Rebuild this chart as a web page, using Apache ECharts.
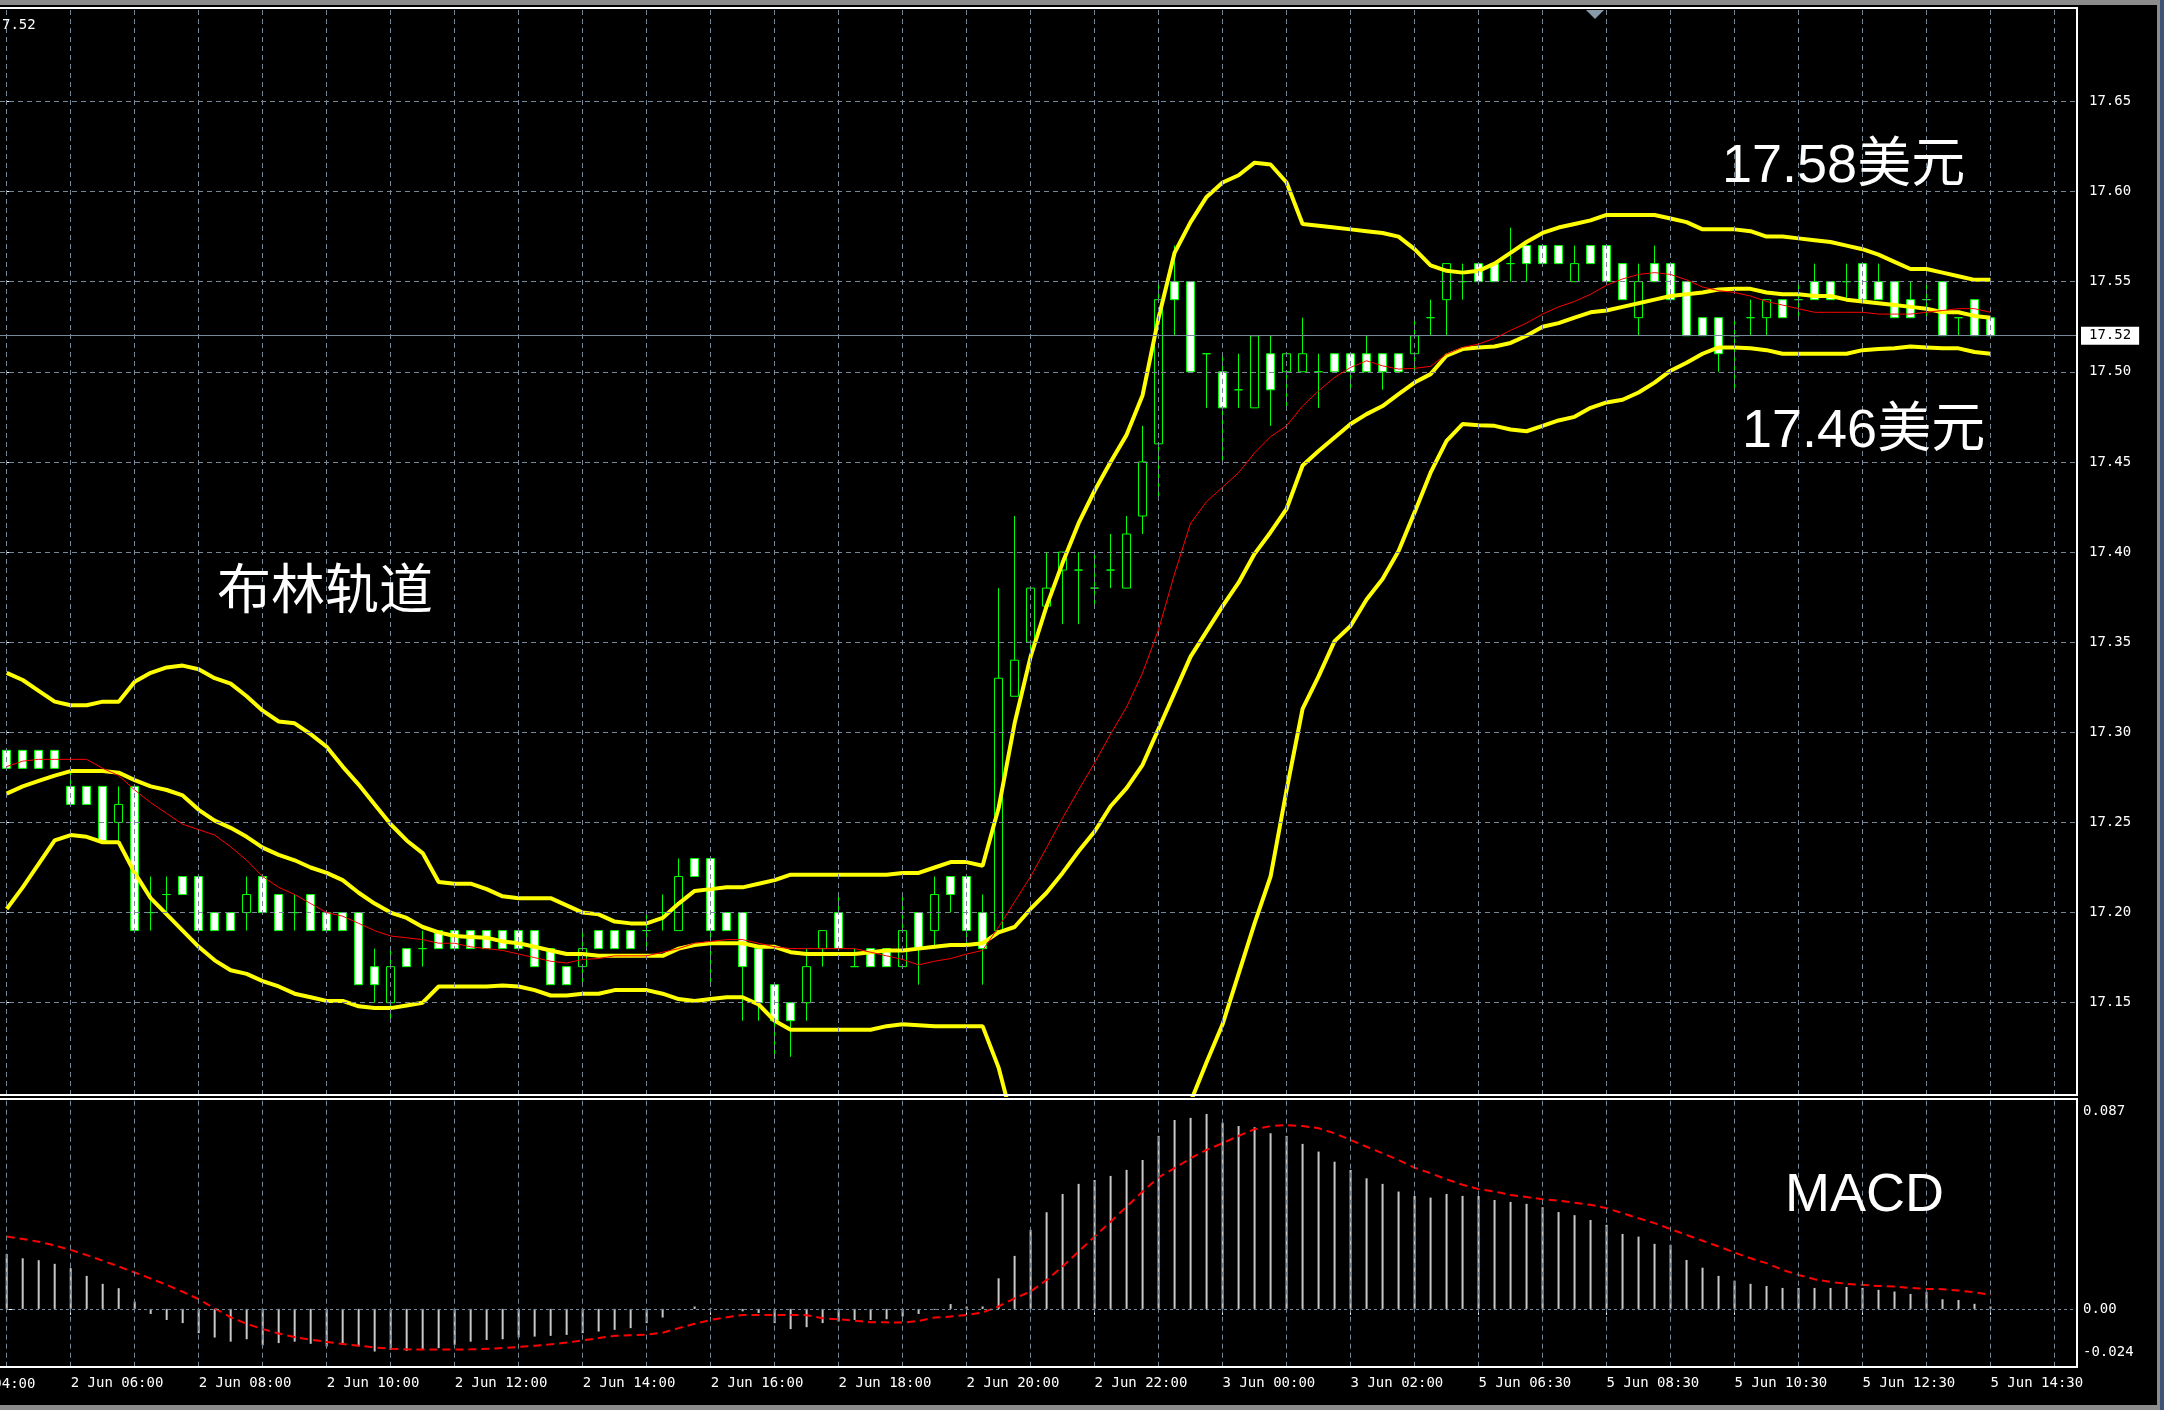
<!DOCTYPE html>
<html><head><meta charset="utf-8">
<script src="https://cdn.jsdelivr.net/npm/echarts@6/dist/echarts.min.js"></script>
<style>html,body{margin:0;padding:0;background:#000;overflow:hidden}#c{width:2164px;height:1410px}</style>
</head><body><div id="c"></div>
<script>
// ---------- data ----------
const timeLabels = ['2 Jun 04:00','2 Jun 06:00','2 Jun 08:00','2 Jun 10:00','2 Jun 12:00','2 Jun 14:00','2 Jun 16:00','2 Jun 18:00','2 Jun 20:00','2 Jun 22:00','3 Jun 00:00','3 Jun 02:00','5 Jun 06:30','5 Jun 08:30','5 Jun 10:30','5 Jun 12:30','5 Jun 14:30'];
const timeTickIdx = [-4,4,12,20,28,36,44,52,60,68,76,84,92,100,108,116,124]; // candle index of each time label
const priceTicks = [17.15,17.20,17.25,17.30,17.35,17.40,17.45,17.50,17.55,17.60,17.65];
const macdTicks = [-0.024, 0, 0.087];
const macdTickLabels = ['-0.024', '0.00', '0.087'];
const lastPrice = 17.52;
// [open, close, low, high]
const candles = [
[17.29,17.28,17.28,17.29],[17.29,17.28,17.28,17.29],[17.29,17.28,17.28,17.29],[17.29,17.28,17.28,17.29],
[17.27,17.26,17.26,17.28],[17.27,17.26,17.26,17.27],[17.27,17.24,17.24,17.27],[17.25,17.26,17.24,17.27],
[17.27,17.19,17.19,17.27],[17.20,17.20,17.19,17.22],[17.21,17.21,17.20,17.22],[17.22,17.21,17.21,17.22],
[17.22,17.19,17.19,17.22],[17.20,17.19,17.19,17.20],[17.20,17.19,17.19,17.20],[17.20,17.21,17.19,17.22],
[17.22,17.20,17.20,17.22],[17.21,17.19,17.19,17.21],[17.20,17.20,17.19,17.21],[17.21,17.19,17.19,17.21],
[17.20,17.19,17.19,17.20],[17.20,17.19,17.19,17.20],[17.20,17.16,17.16,17.20],[17.17,17.16,17.15,17.18],
[17.15,17.17,17.14,17.18],[17.18,17.17,17.17,17.18],[17.18,17.18,17.17,17.19],[17.19,17.18,17.18,17.19],
[17.19,17.18,17.18,17.19],[17.19,17.18,17.18,17.19],[17.19,17.18,17.18,17.19],[17.19,17.18,17.18,17.19],
[17.19,17.18,17.18,17.19],[17.19,17.17,17.17,17.19],[17.18,17.16,17.16,17.18],[17.17,17.16,17.16,17.17],
[17.17,17.18,17.16,17.19],[17.19,17.18,17.18,17.19],[17.19,17.18,17.18,17.19],[17.19,17.18,17.18,17.19],
[17.19,17.19,17.18,17.20],[17.20,17.20,17.19,17.21],[17.19,17.22,17.19,17.23],[17.23,17.22,17.22,17.23],
[17.23,17.19,17.16,17.23],[17.20,17.19,17.19,17.20],[17.20,17.17,17.14,17.20],[17.18,17.15,17.14,17.18],
[17.16,17.14,17.12,17.16],[17.15,17.14,17.12,17.15],[17.15,17.17,17.14,17.18],[17.18,17.19,17.17,17.19],
[17.20,17.18,17.18,17.21],[17.17,17.17,17.17,17.18],[17.18,17.17,17.17,17.18],[17.18,17.17,17.17,17.18],
[17.17,17.19,17.17,17.21],[17.20,17.18,17.16,17.20],[17.19,17.21,17.18,17.22],[17.22,17.21,17.20,17.22],
[17.22,17.19,17.18,17.22],[17.20,17.18,17.16,17.21],[17.19,17.33,17.19,17.38],[17.32,17.34,17.32,17.42],
[17.35,17.38,17.34,17.38],[17.37,17.38,17.37,17.40],[17.39,17.40,17.36,17.40],[17.39,17.39,17.36,17.40],
[17.38,17.38,17.37,17.40],[17.39,17.39,17.38,17.41],[17.38,17.41,17.38,17.42],[17.42,17.45,17.41,17.47],
[17.46,17.54,17.43,17.55],[17.55,17.54,17.52,17.57],[17.55,17.50,17.50,17.55],[17.51,17.51,17.48,17.51],
[17.50,17.48,17.45,17.51],[17.49,17.49,17.48,17.51],[17.48,17.52,17.48,17.52],[17.51,17.49,17.47,17.52],
[17.50,17.51,17.48,17.51],[17.50,17.51,17.50,17.53],[17.50,17.50,17.48,17.51],[17.51,17.50,17.50,17.51],
[17.51,17.50,17.49,17.51],[17.51,17.50,17.50,17.52],[17.51,17.50,17.49,17.51],[17.51,17.50,17.50,17.51],
[17.51,17.52,17.50,17.53],[17.53,17.53,17.52,17.54],[17.54,17.56,17.52,17.56],[17.55,17.55,17.54,17.56],
[17.56,17.55,17.55,17.56],[17.56,17.55,17.55,17.56],[17.56,17.56,17.55,17.58],[17.57,17.56,17.55,17.57],
[17.57,17.56,17.56,17.57],[17.57,17.56,17.56,17.57],[17.55,17.56,17.55,17.57],[17.57,17.56,17.56,17.57],
[17.57,17.55,17.55,17.57],[17.56,17.54,17.54,17.56],[17.53,17.55,17.52,17.56],[17.56,17.55,17.55,17.57],
[17.56,17.54,17.54,17.56],[17.55,17.52,17.52,17.55],[17.53,17.52,17.52,17.53],[17.53,17.51,17.50,17.53],
[17.52,17.52,17.49,17.53],[17.53,17.53,17.52,17.54],[17.53,17.54,17.52,17.54],[17.54,17.53,17.53,17.54],
[17.54,17.54,17.53,17.55],[17.55,17.54,17.54,17.56],[17.55,17.54,17.54,17.55],[17.55,17.55,17.54,17.56],
[17.56,17.54,17.54,17.56],[17.55,17.54,17.54,17.56],[17.55,17.53,17.53,17.55],[17.54,17.53,17.53,17.55],
[17.54,17.54,17.53,17.55],[17.55,17.52,17.52,17.55],[17.53,17.53,17.52,17.53],[17.54,17.52,17.52,17.54],
[17.53,17.52,17.52,17.53]
];
const bbUpper = [17.333,17.329,17.323,17.317,17.315,17.315,17.317,17.317,17.328,17.333,17.336,17.337,17.335,17.330,17.327,17.320,
17.312,17.306,17.305,17.299,17.292,17.281,17.271,17.260,17.249,17.240,17.233,17.217,17.216,17.216,17.213,17.209,
17.208,17.208,17.208,17.204,17.200,17.199,17.195,17.194,17.194,17.197,17.205,17.212,17.213,17.214,17.214,17.216,
17.218,17.221,17.221,17.221,17.221,17.221,17.221,17.221,17.222,17.222,17.225,17.228,17.228,17.226,17.258,17.305,
17.342,17.370,17.394,17.416,17.434,17.450,17.465,17.487,17.530,17.566,17.583,17.597,17.605,17.609,17.616,17.615,
17.605,17.582,17.581,17.580,17.579,17.578,17.577,17.575,17.568,17.559,17.556,17.555,17.556,17.560,17.566,17.572,
17.577,17.580,17.582,17.584,17.587,17.587,17.587,17.587,17.585,17.583,17.579,17.579,17.579,17.578,17.575,17.575,
17.574,17.573,17.572,17.570,17.568,17.565,17.561,17.557,17.557,17.555,17.553,17.551,17.551];
const bbMiddle = [17.266,17.270,17.273,17.276,17.2785,17.2785,17.2785,17.2776,17.2735,17.270,17.268,17.265,17.257,17.251,17.247,17.242,
17.236,17.232,17.229,17.225,17.222,17.218,17.211,17.205,17.200,17.197,17.192,17.189,17.187,17.1865,17.186,17.184,
17.183,17.181,17.179,17.177,17.177,17.176,17.176,17.176,17.176,17.176,17.180,17.182,17.183,17.183,17.183,17.181,
17.181,17.178,17.177,17.177,17.177,17.177,17.178,17.179,17.179,17.180,17.181,17.182,17.182,17.183,17.189,17.192,
17.202,17.211,17.222,17.234,17.245,17.259,17.269,17.282,17.302,17.322,17.342,17.356,17.370,17.383,17.399,17.411,
17.424,17.448,17.456,17.4635,17.471,17.4765,17.481,17.4876,17.494,17.4987,17.509,17.5126,17.5135,17.514,17.516,17.520,
17.525,17.527,17.530,17.533,17.534,17.536,17.538,17.540,17.542,17.543,17.544,17.5456,17.546,17.546,17.544,17.543,
17.543,17.542,17.542,17.540,17.539,17.538,17.537,17.536,17.535,17.533,17.533,17.531,17.530];
const bbLower = [17.202,17.214,17.227,17.240,17.243,17.242,17.239,17.239,17.222,17.208,17.199,17.190,17.181,17.1735,17.168,17.166,
17.162,17.159,17.155,17.153,17.151,17.151,17.148,17.147,17.147,17.1485,17.150,17.159,17.159,17.159,17.159,17.1595,
17.159,17.157,17.154,17.154,17.155,17.155,17.157,17.157,17.157,17.155,17.152,17.151,17.152,17.153,17.153,17.149,
17.140,17.135,17.135,17.135,17.135,17.135,17.135,17.137,17.138,17.1375,17.137,17.137,17.137,17.137,17.114,17.080,
17.060,17.050,17.050,17.052,17.055,17.060,17.070,17.075,17.075,17.080,17.095,17.117,17.138,17.166,17.194,17.220,
17.268,17.313,17.331,17.3506,17.359,17.3737,17.385,17.4006,17.422,17.444,17.4617,17.471,17.4704,17.470,17.468,17.467,
17.470,17.473,17.475,17.480,17.483,17.4845,17.4885,17.494,17.5006,17.505,17.510,17.5135,17.5135,17.513,17.512,17.510,
17.510,17.510,17.510,17.510,17.512,17.5126,17.513,17.514,17.5135,17.513,17.513,17.511,17.510];
const maRed = [17.281,17.284,17.285,17.285,17.285,17.285,17.280,17.276,17.268,17.261,17.255,17.249,17.246,17.243,17.2365,17.229,
17.220,17.214,17.210,17.205,17.200,17.198,17.194,17.190,17.187,17.186,17.185,17.183,17.183,17.181,17.180,17.179,
17.177,17.175,17.173,17.172,17.174,17.1745,17.176,17.176,17.176,17.178,17.180,17.183,17.184,17.185,17.185,17.183,
17.181,17.180,17.180,17.180,17.180,17.180,17.178,17.176,17.174,17.171,17.173,17.1745,17.177,17.179,17.192,17.206,
17.220,17.236,17.2525,17.268,17.283,17.299,17.314,17.333,17.357,17.388,17.416,17.428,17.436,17.444,17.455,17.464,
17.470,17.481,17.4894,17.4969,17.5024,17.5061,17.5033,17.5015,17.5019,17.503,17.5098,17.5135,17.5154,17.5185,17.523,17.527,
17.532,17.536,17.539,17.543,17.548,17.5515,17.554,17.555,17.554,17.551,17.547,17.545,17.544,17.542,17.539,17.537,
17.535,17.533,17.533,17.533,17.533,17.532,17.532,17.532,17.533,17.534,17.535,17.535,17.533];
const macdHist = [0.0228,0.0210,0.0202,0.0187,0.0169,0.0137,0.0104,0.0086,0.0030,-0.0021,-0.0046,-0.0059,-0.0101,-0.0119,-0.0136,-0.0126,
-0.0151,-0.0142,-0.0136,-0.0145,-0.0156,-0.0142,-0.0156,-0.0177,-0.0170,-0.0174,-0.0167,-0.0163,-0.0149,-0.0136,-0.0129,-0.0126,
-0.0118,-0.0115,-0.0112,-0.0108,-0.0101,-0.0094,-0.0087,-0.0080,-0.0059,-0.0036,-0.0005,0.0010,0.0003,-0.0005,-0.0010,-0.0017,
-0.0059,-0.0084,-0.0076,-0.0059,-0.0052,-0.0046,-0.0046,-0.0043,-0.0032,-0.0021,-0.0004,0.0020,0.0010,0.0010,0.0127,0.0220,
0.0328,0.0401,0.0477,0.0519,0.0535,0.0552,0.0577,0.0618,0.0718,0.0784,0.0793,0.0809,0.0773,0.0759,0.0754,0.0729,
0.0718,0.0685,0.0653,0.0611,0.0577,0.0542,0.0519,0.0487,0.0469,0.0462,0.0477,0.0469,0.0469,0.0452,0.0444,0.0436,
0.0422,0.0402,0.0389,0.0369,0.0349,0.0311,0.0300,0.0270,0.0266,0.0203,0.0171,0.0137,0.0117,0.0104,0.0095,0.0087,
0.0087,0.0087,0.0087,0.0091,0.0087,0.0079,0.0072,0.0062,0.0071,0.0040,0.0037,0.0021,0.0010];
const macdSignal = [0.0300,0.0290,0.0279,0.0263,0.0245,0.0223,0.0200,0.0176,0.0151,0.0126,0.0100,0.0071,0.0040,0.0002,-0.0035,-0.0062,
-0.0084,-0.0102,-0.0117,-0.0128,-0.0137,-0.0146,-0.0153,-0.0160,-0.0165,-0.0168,-0.0169,-0.0169,-0.0169,-0.0168,-0.0166,-0.0162,
-0.0158,-0.0153,-0.0147,-0.0140,-0.0131,-0.0121,-0.0112,-0.0109,-0.0107,-0.0099,-0.0080,-0.0062,-0.0046,-0.0035,-0.0025,-0.0025,
-0.0025,-0.0025,-0.0026,-0.0039,-0.0043,-0.0049,-0.0055,-0.0056,-0.0057,-0.0050,-0.0036,-0.0032,-0.0025,-0.0015,0.0010,0.0044,
0.0072,0.0120,0.0176,0.0238,0.0300,0.0362,0.0424,0.0487,0.0546,0.0584,0.0625,0.0660,0.0688,0.0718,0.0746,0.0759,
0.0763,0.0759,0.0750,0.0729,0.0701,0.0673,0.0646,0.0618,0.0586,0.0563,0.0538,0.0515,0.0497,0.0487,0.0473,0.0464,
0.0455,0.0449,0.0441,0.0432,0.0418,0.0397,0.0376,0.0356,0.0331,0.0307,0.0283,0.0259,0.0234,0.0210,0.0190,0.0162,
0.0141,0.0123,0.0112,0.0104,0.0100,0.0095,0.0093,0.0087,0.0083,0.0082,0.0076,0.0069,0.0058];

// ---------- setup ----------
const XMIN = -0.41875, XMAX = 129.40625;   // candle-index extent of the plot (16px per candle)
const at = arr => arr.map((v, i) => [i, v]);
const GRIDC = '#778899';
const MONO = "'DejaVu Sans Mono', monospace";
const BIG = "'Liberation Sans', 'Noto Sans CJK SC', sans-serif";
const vGrid = [];
for (let k = 0; k <= 128; k += 4) vGrid.push({xAxis: k});
const visTimeTicks = timeTickIdx.filter(v => v >= XMIN);
const gridLineStyle = {color: GRIDC, width: 1, type: [5, 4]};
const chart = echarts.init(document.getElementById('c'), null, {renderer: 'canvas', width: 2164, height: 1410});

const hiddenX = {axisLine: {show: false}, axisTick: {show: false}, axisLabel: {show: false}, splitLine: {show: false}};
chart.setOption({
  backgroundColor: '#000',
  animation: false,
  grid: [
    {left: 0, width: 2077, top: 8, height: 1087},
    {left: 0, width: 2077, top: 1099.3, height: 267.4}
  ],
  xAxis: [
    Object.assign({type: 'value', gridIndex: 0, min: XMIN, max: XMAX}, hiddenX),
    {type: 'value', gridIndex: 1, min: XMIN, max: XMAX,
     axisLine: {show: false}, splitLine: {show: false},
     axisTick: {show: true, customValues: visTimeTicks, length: 6, lineStyle: {color: '#fff'}},
     axisLabel: {show: true, customValues: visTimeTicks, align: 'left', margin: 10, color: '#fff',
       fontFamily: MONO, fontSize: 14,
       formatter: v => timeLabels[timeTickIdx.indexOf(Math.round(v))] || ''}}
  ],
  yAxis: [
    {type: 'value', gridIndex: 0, position: 'right', min: 17.0988, max: 17.7018, scale: true,
     splitLine: {show: false}, axisLine: {show: false},
     axisTick: {show: true, customValues: priceTicks, length: 6, lineStyle: {color: '#fff'}},
     axisLabel: {show: true, customValues: priceTicks, formatter: v => v.toFixed(2), color: '#fff',
       fontFamily: MONO, fontSize: 14, margin: 12}},
    {type: 'value', gridIndex: 1, position: 'right', min: -0.024, max: 0.087,
     splitLine: {show: false}, axisLine: {show: false},
     axisTick: {show: true, customValues: macdTicks, length: 6, lineStyle: {color: '#fff'}},
     axisLabel: {show: true, customValues: macdTicks, color: '#fff', fontFamily: MONO, fontSize: 14, margin: 6,
       formatter: v => {
         const idx = macdTicks.findIndex(t => Math.abs(t - v) < 1e-9);
         const s = macdTickLabels[idx];
         if (v > 0.05) return '{t|' + s + '}';
         if (v < -0.01) return '{b|' + s + '}';
         return s;
       },
       rich: {t: {padding: [24, 0, 0, 0]}, b: {padding: [0, 0, 28, 0]}}}}
  ],
  series: [
    { // main grid lines + current price line
      type: 'line', xAxisIndex: 0, yAxisIndex: 0, data: [], z: 1, silent: true,
      markLine: {silent: true, symbol: ['none', 'none'], animation: false,
        label: {show: false}, lineStyle: gridLineStyle,
        data: priceTicks.map(v => ({yAxis: v})).concat(vGrid).concat([
          {yAxis: lastPrice, lineStyle: {color: GRIDC, type: 'solid', width: 1},
           label: {show: true, position: 'end', distance: 4, formatter: lastPrice.toFixed(2),
             color: '#000', backgroundColor: '#fff', padding: [2, 8, 2, 8],
             fontFamily: MONO, fontSize: 14, lineHeight: 14}}
        ])}
    },
    {
      type: 'candlestick', xAxisIndex: 0, yAxisIndex: 0, z: 3, barWidth: 8, silent: true,
      data: candles.map((d, i) => [i, d[0], d[1], d[2], d[3]]),
      encode: {x: 0, y: [1, 2, 3, 4]},
      itemStyle: {color: '#000', color0: '#fff', borderColor: '#00ff00', borderColor0: '#00ff00',
        borderColorDoji: '#00ff00', borderWidth: 1}
    },
    {type: 'line', xAxisIndex: 0, yAxisIndex: 0, z: 4, data: at(bbUpper), symbol: 'none', silent: true,
     lineStyle: {color: '#ffff00', width: 4}},
    {type: 'line', xAxisIndex: 0, yAxisIndex: 0, z: 4, data: at(bbMiddle), symbol: 'none', silent: true,
     lineStyle: {color: '#ffff00', width: 4}},
    {type: 'line', xAxisIndex: 0, yAxisIndex: 0, z: 4, data: at(bbLower), symbol: 'none', silent: true,
     lineStyle: {color: '#ffff00', width: 4}},
    {type: 'line', xAxisIndex: 0, yAxisIndex: 0, z: 5, data: at(maRed), symbol: 'none', silent: true,
     lineStyle: {color: '#ff0000', width: 1}},
    { // MACD grid lines
      type: 'line', xAxisIndex: 1, yAxisIndex: 1, data: [], z: 1, silent: true,
      markLine: {silent: true, symbol: ['none', 'none'], animation: false, label: {show: false},
        lineStyle: gridLineStyle,
        data: vGrid.concat([{yAxis: 0, lineStyle: {color: GRIDC, type: [3, 3], width: 1}}])}
    },
    {type: 'bar', xAxisIndex: 1, yAxisIndex: 1, z: 3, data: at(macdHist), barWidth: 2, silent: true,
     itemStyle: {color: '#c8c8c8'}},
    {type: 'line', xAxisIndex: 1, yAxisIndex: 1, z: 4, data: at(macdSignal), symbol: 'none', silent: true,
     lineStyle: {color: '#ff0000', width: 2, type: [8, 5]}}
  ]
});

// first (partly hidden) time label sits left of the plot; place it through the axis scale
const firstX = chart.convertToPixel({gridIndex: 1}, [timeTickIdx[0], 0])[0];
chart.setOption({
  graphic: [
    {type: 'rect', silent: true, shape: {x: 0, y: 0, width: 2164, height: 5}, style: {fill: '#8c8c8c'}, z: 100},
    {type: 'rect', silent: true, shape: {x: -2, y: 8, width: 2079, height: 1087}, style: {fill: 'none', stroke: '#ffffff', lineWidth: 2}, z: 100},
    {type: 'rect', silent: true, shape: {x: -2, y: 1099, width: 2079, height: 268}, style: {fill: 'none', stroke: '#ffffff', lineWidth: 2}, z: 100},
    {type: 'rect', silent: true, shape: {x: 2157, y: 0, width: 3, height: 1410}, style: {fill: '#8c8c8c'}, z: 100},
    {type: 'rect', silent: true, shape: {x: 2160, y: 0, width: 4, height: 1410}, style: {fill: '#3d5275'}, z: 100},
    {type: 'rect', silent: true, shape: {x: 0, y: 1405, width: 2160, height: 5}, style: {fill: '#8c8c8c'}, z: 100},
    {type: 'polygon', silent: true, shape: {points: [[1586, 10], [1604, 10], [1595, 19]]}, style: {fill: '#8899aa'}, z: 100},
    {type: 'text', silent: true, x: firstX, y: 1384, z: 100,
     style: {text: timeLabels[0], fill: '#fff', font: '14px ' + MONO, verticalAlign: 'middle'}},
    {type: 'text', silent: true, x: 2, y: 25, z: 100,
     style: {text: '7.52', fill: '#fff', font: '14px ' + MONO, verticalAlign: 'middle'}},
    {type: 'text', silent: true, x: 1722, y: 167, z: 100,
     style: {text: '17.58美元', fill: '#fff', font: '54px ' + BIG, verticalAlign: 'middle'}},
    {type: 'text', silent: true, x: 1742, y: 432, z: 100,
     style: {text: '17.46美元', fill: '#fff', font: '54px ' + BIG, verticalAlign: 'middle'}},
    {type: 'text', silent: true, x: 217, y: 594, z: 100,
     style: {text: '布林轨道', fill: '#fff', font: '54px ' + BIG, verticalAlign: 'middle'}},
    {type: 'text', silent: true, x: 1785, y: 1196, z: 100,
     style: {text: 'MACD', fill: '#fff', font: '54px ' + BIG, verticalAlign: 'middle'}}
  ]
});
</script>
</body></html>
